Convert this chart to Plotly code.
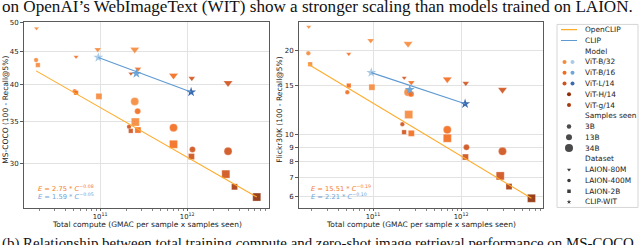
import plotly.graph_objects as go

# ---------------- data ----------------
oc_model = ["ViT-B/32", "ViT-B/32", "ViT-B/32", "ViT-B/16", "ViT-B/16", "ViT-B/16",
            "ViT-B/32", "ViT-B/32", "ViT-B/32", "ViT-L/14", "ViT-B/16", "ViT-B/32",
            "ViT-B/16", "ViT-L/14", "ViT-L/14", "ViT-B/32", "ViT-B/16", "ViT-B/16",
            "ViT-B/16", "ViT-B/16", "ViT-L/14", "ViT-L/14", "ViT-L/14", "ViT-L/14",
            "ViT-L/14", "ViT-L/14", "ViT-g/14", "ViT-H/14"]
oc_samples = ["3B", "3B", "3B", "3B", "3B", "3B", "13B", "13B", "34B", "3B", "13B", "34B",
              "13B", "3B", "3B", "34B", "13B", "34B", "34B", "34B", "13B", "13B", "13B",
              "34B", "34B", "34B", "13B", "34B"]
oc_dataset = ["LAION-80M", "LAION-400M", "LAION-2B", "LAION-80M", "LAION-400M", "LAION-2B",
              "LAION-80M", "LAION-2B", "LAION-80M", "LAION-80M", "LAION-80M", "LAION-400M",
              "LAION-400M", "LAION-400M", "LAION-2B", "LAION-2B", "LAION-2B", "LAION-80M",
              "LAION-400M", "LAION-2B", "LAION-80M", "LAION-400M", "LAION-2B", "LAION-80M",
              "LAION-400M", "LAION-2B", "LAION-2B", "LAION-2B"]
oc_compute = [1.86e10, 1.84e10, 1.93e10, 5.3e10, 5.1e10, 5.3e10, 9.4e10, 9.7e10, 2.5e11,
              2.26e11, 2.72e11, 2.5e11, 2.7e11, 2.15e11, 2.25e11, 2.54e11, 2.72e11, 6.97e11,
              6.97e11, 6.97e11, 1.13e12, 1.15e12, 1.12e12, 2.95e12, 2.95e12, 2.78e12,
              3.5e12, 6.3e12]
oc_coco = [49.0, 43.7, 42.9, 44.2, 39.0, 38.8, 45.4, 38.3, 45.4, 41.6, 42.3, 37.6, 36.3,
           34.3, 33.8, 34.9, 33.9, 41.3, 34.2, 32.2, 40.9, 31.6, 30.8, 40.2, 31.4, 28.9,
           27.6, 26.6]
oc_flickr = [24.4, 19.6, 17.9, 19.5, 14.2, 15.0, 21.8, 14.8, 21.2, 16.0, 15.4, 14.2, 14.0,
             10.9, 10.2, 11.8, 10.1, 15.8, 10.4, 9.7, 15.3, 9.0, 8.3, 14.5, 8.7, 7.1,
             6.5, 5.9]

clip_model = ["ViT-B/32", "ViT-B/16", "ViT-L/14"]
clip_compute = [9.55e10, 2.61e11, 1.11e12]
clip_coco = [44.1, 41.6, 38.9]
clip_flickr = [16.7, 14.5, 12.9]

# fitted power-law lines (end points)
oc_fit_compute = [1.84e10, 6.3e12]
oc_fit_coco = [42.0, 26.6]
oc_fit_flickr = [17.9, 5.9]
clip_fit_compute = [9.55e10, 1.11e12]
clip_fit_coco = [44.1, 38.9]
clip_fit_flickr = [16.7, 12.9]

fit_text_coco = ["<i>E</i> = 2.75 * <i>C</i><sup>\u22120.08</sup>",
                 "<i>E</i> = 1.59 * <i>C</i><sup>\u22120.05</sup>"]
fit_text_flickr = ["<i>E</i> = 15.51 * <i>C</i><sup>\u22120.19</sup>",
                   "<i>E</i> = 2.21 * <i>C</i><sup>\u22120.10</sup>"]

coco_ticks = [30, 35, 40, 45, 50]
flickr_ticks = [6, 7, 8, 9, 10, 15, 20]
x_ticks = [1e11, 1e12]
x_ticktext = ["10<sup>11</sup>", "10<sup>12</sup>"]

legend_models = ["ViT-B/32", "ViT-B/16", "ViT-L/14", "ViT-H/14", "ViT-g/14"]
legend_samples = ["3B", "13B", "34B"]
legend_datasets = ["LAION-80M", "LAION-400M", "LAION-2B", "CLIP-WIT"]

# ---------------- styles ----------------
oc_colors = {"ViT-B/32": "#f6893a", "ViT-B/16": "#f36c1d", "ViT-L/14": "#d0511a",
             "ViT-H/14": "#8f2e07", "ViT-g/14": "#a83a0e"}
clip_colors = {"ViT-B/32": "#a9cbe8", "ViT-B/16": "#6ea6d8", "ViT-L/14": "#3c6aae"}
size_map = {"3B": 4.5, "13B": 6.0, "34B": 8.0}
symbol_map = {"LAION-80M": "triangle-down", "LAION-400M": "circle", "LAION-2B": "square",
              "CLIP-WIT": "star"}
OC_LINE = "#ffab2a"
CLIP_LINE = "#5e9ad2"
OC_TEXT = "#f47a2a"
CLIP_TEXT = "#6ea2d6"
SPINE = "#5a5a5a"
GRID = "#e2e2e2"
FONT = "DejaVu Sans"

W, H = 640, 245
fig = go.Figure()

def px_x(p):
    return p / W

def px_y(p):
    return 1 - p / H

for xa, ya, vals, fitv, cfitv, cvals in [("x", "y", oc_coco, oc_fit_coco, clip_fit_coco, clip_coco),
                                         ("x2", "y2", oc_flickr, oc_fit_flickr, clip_fit_flickr, clip_flickr)]:
    fig.add_trace(go.Scatter(
        x=oc_compute, y=vals, mode="markers", xaxis=xa, yaxis=ya,
        marker=dict(color=[oc_colors[m] for m in oc_model],
                    size=[size_map[s] for s in oc_samples],
                    symbol=[symbol_map[d] for d in oc_dataset],
                    opacity=0.9, line=dict(width=0.6, color="rgba(255,255,255,0.45)")),
        hoverinfo="skip"))
    fig.add_trace(go.Scatter(
        x=clip_compute, y=cvals, mode="markers", xaxis=xa, yaxis=ya,
        marker=dict(color=[clip_colors[m] for m in clip_model], size=7.5, symbol="star",
                    line=dict(width=0)),
        hoverinfo="skip"))
    fig.add_trace(go.Scatter(x=oc_fit_compute, y=fitv, mode="lines", xaxis=xa, yaxis=ya,
                             line=dict(color=OC_LINE, width=1.1), hoverinfo="skip"))
    fig.add_trace(go.Scatter(x=clip_fit_compute, y=cfitv, mode="lines", xaxis=xa, yaxis=ya,
                             line=dict(color=CLIP_LINE, width=1.1), hoverinfo="skip"))

minor_vals = [m * 10 ** e for e in (10, 11, 12) for m in range(2, 10)]

def xaxis_cfg(dom, rng, anchor):
    return dict(domain=dom, type="log", range=rng, anchor=anchor,
                tickmode="array", tickvals=x_ticks, ticktext=x_ticktext,
                showgrid=True, gridcolor=GRID, gridwidth=1.2,
                showline=True, linecolor=SPINE, linewidth=1, mirror=True,
                ticks="outside", ticklen=2, tickcolor=SPINE, tickwidth=0.8,
                tickfont=dict(family=FONT, size=6.8, color="#222"),
                minor=dict(tickmode="array", tickvals=minor_vals, ticks="outside",
                           ticklen=1.5, tickcolor="#888", tickwidth=0.6, showgrid=False),
                zeroline=False)

def yaxis_cfg(dom, rng, anchor, tv):
    return dict(domain=dom, type="log", range=rng, anchor=anchor,
                tickmode="array", tickvals=tv, ticktext=[str(t) for t in tv],
                showgrid=True, gridcolor=GRID, gridwidth=1.2,
                showline=True, linecolor=SPINE, linewidth=1, mirror=True,
                ticks="outside", ticklen=3, tickcolor=SPINE, tickwidth=0.8,
                tickfont=dict(family=FONT, size=7, color="#222"), zeroline=False)

ydom = [px_y(207.7), px_y(19)]
fig.update_layout(
    xaxis=xaxis_cfg([px_x(24), px_x(269)], [10.126, 12.94], "y"),
    yaxis=yaxis_cfg(ydom, [1.4074, 1.7005], "x", coco_ticks),
    xaxis2=xaxis_cfg([px_x(299), px_x(543)], [10.159, 12.93], "y2"),
    yaxis2=yaxis_cfg(ydom, [0.7353, 1.4056], "x2", flickr_ticks),
)

# ---------------- legend (drawn on a hidden pixel-scaled axis) ----------------
LX0, LX1, LY0, LY1 = 557, 638, 21.7, 207
fig.update_layout(
    xaxis3=dict(domain=[px_x(LX0), px_x(LX1)], range=[LX0, LX1], visible=False, anchor="y3"),
    yaxis3=dict(domain=[px_y(LY1), px_y(LY0)], range=[LY1, LY0], visible=False, anchor="x3"),
)
fig.add_shape(type="rect", xref="paper", yref="paper",
              x0=px_x(LX0), x1=px_x(LX1), y0=px_y(LY1), y1=px_y(LY0),
              line=dict(color="#cccccc", width=0.8), fillcolor="white", layer="below")

row0, dy = 27.0, 10.9
rows = []
rows.append(("OpenCLIP", "line", OC_LINE))
rows.append(("CLIP", "line", CLIP_LINE))
rows.append(("Model", None, None))
for m in legend_models:
    rows.append((m, "model", m))
rows.append(("Samples seen", None, None))
for s in legend_samples:
    rows.append((s, "samples", s))
rows.append(("Dataset", None, None))
for d in legend_datasets:
    rows.append((d, "dataset", d))

TX = 582.5
MX = 569
for i, (label, kind, key) in enumerate(rows):
    yy = row0 + dy * i
    fig.add_annotation(x=TX, y=yy, xref="x3", yref="y3", text=label, showarrow=False,
                       xanchor="left", yanchor="middle",
                       font=dict(family=FONT, size=7.4, color="#222"))
    if kind == "line":
        fig.add_trace(go.Scatter(x=[561, 577], y=[yy, yy], mode="lines", xaxis="x3", yaxis="y3",
                                 line=dict(color=key, width=1.1), hoverinfo="skip"))
    elif kind == "model":
        if key in clip_colors:
            fig.add_trace(go.Scatter(x=[MX - 4.5, MX + 3.5], y=[yy, yy], mode="markers",
                                     xaxis="x3", yaxis="y3",
                                     marker=dict(color=[oc_colors[key], clip_colors[key]], size=4),
                                     hoverinfo="skip"))
        else:
            fig.add_trace(go.Scatter(x=[MX], y=[yy], mode="markers", xaxis="x3", yaxis="y3",
                                     marker=dict(color=oc_colors[key], size=4), hoverinfo="skip"))
    elif kind == "samples":
        fig.add_trace(go.Scatter(x=[MX], y=[yy], mode="markers", xaxis="x3", yaxis="y3",
                                 marker=dict(color="#4a4a4a", size=size_map[key]), hoverinfo="skip"))
    elif kind == "dataset":
        fig.add_trace(go.Scatter(x=[MX], y=[yy], mode="markers", xaxis="x3", yaxis="y3",
                                 marker=dict(color="#3a3a3a", size=3.5, symbol=symbol_map[key]),
                                 hoverinfo="skip"))

# ---------------- texts ----------------
for (xp, yps, texts) in [(36, (187.7, 195.7), fit_text_coco), (309, (188.3, 196.0), fit_text_flickr)]:
    for yp, t, c in zip(yps, texts, (OC_TEXT, CLIP_TEXT)):
        fig.add_annotation(x=px_x(xp), y=px_y(yp), xref="paper", yref="paper", text=t,
                           showarrow=False, xanchor="left", yanchor="middle",
                           font=dict(family=FONT, size=6.7, color=c))

xtitle = "Total compute (GMAC per sample x samples seen)"
for cx in (146.5, 421):
    fig.add_annotation(x=px_x(cx), y=px_y(224), xref="paper", yref="paper", text=xtitle,
                       showarrow=False, xanchor="center", yanchor="middle",
                       font=dict(family=FONT, size=7.5, color="#222"))
for cx, t in ((6, "MS-COCO (100 - Recall@5%)"), (280, "Flickr30K (100 - Recall@5%)")):
    fig.add_annotation(x=px_x(cx), y=px_y(108), xref="paper", yref="paper", text=t,
                       textangle=-90, showarrow=False, xanchor="center", yanchor="middle",
                       font=dict(family=FONT, size=7.5, color="#222"))

fig.add_annotation(x=0, y=px_y(3.2), xref="paper", yref="paper",
                   text="on OpenAI\u2019s WebImageText (WIT) show a stronger scaling than models trained on LAION.",
                   showarrow=False, xanchor="left", yanchor="middle",
                   font=dict(family="Liberation Serif", size=17.1, color="#111"))
fig.add_annotation(x=0, y=px_y(243.3), xref="paper", yref="paper",
                   text="(b) Relationship between total training compute and zero-shot image retrieval performance on MS-COCO",
                   showarrow=False, xanchor="left", yanchor="middle",
                   font=dict(family="Liberation Serif", size=14.9, color="#111"))

fig.update_layout(width=W, height=H, margin=dict(l=0, r=0, t=0, b=0),
                  paper_bgcolor="white", plot_bgcolor="white", showlegend=False,
                  font=dict(family=FONT, size=8, color="#222"))

fig.write_html("out.html", config={"displayModeBar": False},
               post_script="document.body.style.margin='0';document.body.style.overflow='hidden';")
